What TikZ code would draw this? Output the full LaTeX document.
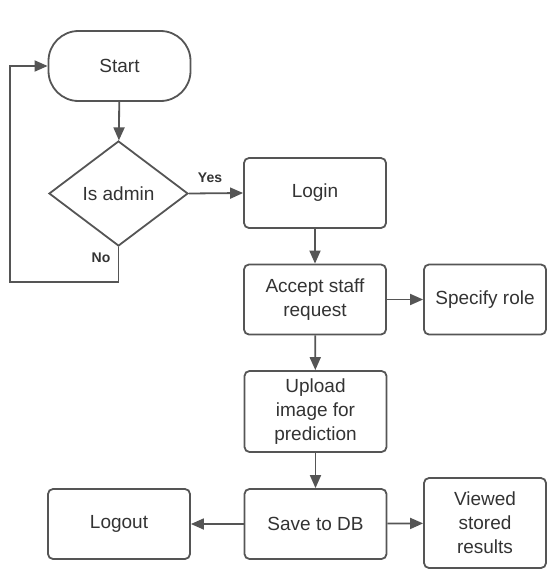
\documentclass[tikz,border=0pt]{standalone}
\usepackage{fontspec}
\setmainfont{Liberation Sans}
\usetikzlibrary{arrows.meta,shapes.geometric}
\definecolor{linegray}{HTML}{555555}
\definecolor{textgray}{HTML}{333333}
\begin{document}
\begin{tikzpicture}[x=1pt,y=-1pt,>={Triangle[length=13pt,width=11pt]},
    box/.style={draw=linegray,line width=1.8pt,rounded corners=5pt,align=center,text=textgray,
      font=\fontsize{19}{24}\selectfont,inner sep=2pt,minimum width=142pt,minimum height=70pt},
    smallbox/.style={box,minimum width=122pt},
    label/.style={text=textgray,font=\fontsize{14}{16}\selectfont\bfseries},
    arrow/.style={draw=linegray,line width=1.8pt,->}]
  \useasboundingbox (0,0) rectangle (547,570);
  \node[box,rounded corners=30pt] (start) at (119.5,66) {Start};
  \node[diamond,draw=linegray,line width=1.8pt,inner sep=0pt,minimum width=139pt,minimum height=105pt,
    text=textgray,font=\fontsize{19}{24}\selectfont] (admin) at (118.5,193.5) {Is admin};
  \node[box] (login) at (315,193) {Login};
  \node[box] (accept) at (315,299.5) {Accept staff\\request};
  \node[smallbox] (role) at (485,299.5) {Specify role};
  \node[box,minimum height=81pt] (upload) at (315.5,411.5) {Upload\\image for\\prediction};
  \node[box] (save) at (315.5,524) {Save to DB};
  \node[box] (logout) at (119,524) {Logout};
  \node[smallbox,minimum height=90pt] (viewed) at (485,523) {Viewed\\stored\\results};
  \coordinate (loop) at (10,282);
  \node[label] (yes) at (210,178) {Yes};
  \node[label] (no) at (101,258) {No};
  \draw[arrow] (start) to (admin);
  \draw[arrow] (admin.east) to (login.west);
  \draw[arrow] (admin.south) |- (loop) |- (start.west);
  \draw[arrow] (login) to (accept); \draw[arrow] (accept) to (role);
  \draw[arrow] (accept) to (upload); \draw[arrow] (upload) to (save);
  \draw[arrow] (save) to (logout); \draw[arrow] (save) to (viewed);
\end{tikzpicture}
\end{document}
